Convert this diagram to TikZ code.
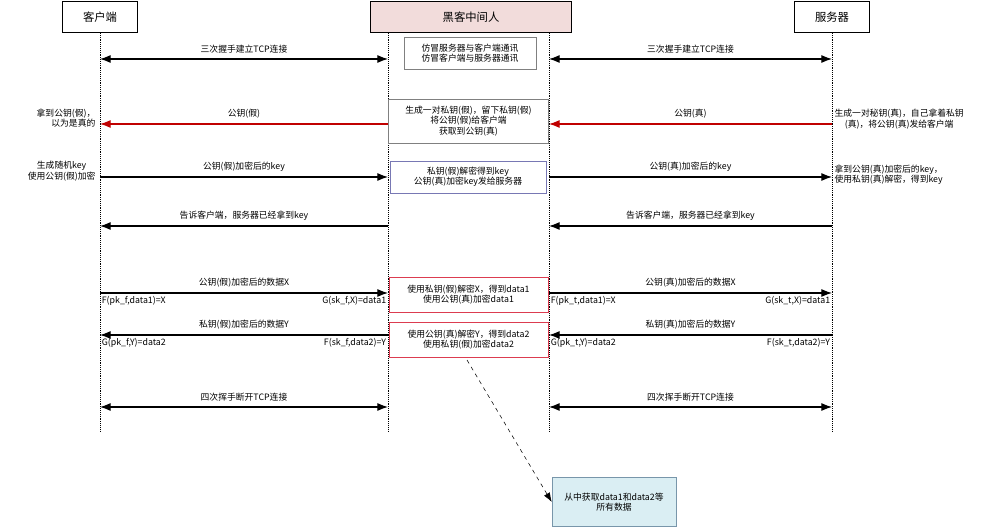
\documentclass[tikz,border=0pt]{standalone}
\usepackage{fontspec}
\setmainfont{Noto Sans CJK SC}
\usetikzlibrary{arrows.meta,positioning}
\begin{document}
\begin{tikzpicture}[x=0.75pt,y=-0.75pt,
 every node/.style={font=\fontsize{6.6}{7.8}\selectfont,inner sep=1pt},
 hdr/.style={draw,thick,minimum height=23pt,font=\fontsize{8.5}{10}\selectfont},
 life/.style={densely dotted,thin},
 msg/.style={thick,-{Latex[length=8pt,width=6pt]}},
 dmsg/.style={thick,{Latex[length=8pt,width=6pt]}-{Latex[length=8pt,width=6pt]}},
 red msg/.style={msg,draw={rgb,255:red,192;green,0;blue,0}},
 gbox/.style={draw=gray,align=center},
 rbox/.style={draw={rgb,255:red,220;green,60;blue,80},align=center}]
\useasboundingbox (0,0) rectangle (1001,527);
\node[hdr,minimum width=56pt] (c) at (100,17) {客户端};
\node[hdr,minimum width=151pt,fill={rgb,255:red,242;green,220;blue,219}] (m) at (471,17) {黑客中间人};
\node[hdr,minimum width=56pt] (s) at (832,17) {服务器};
\foreach \n/\x in {c1/100,m1/388,m2/549,s1/832}{
 \coordinate (\n t) at (\x,33); \coordinate (\n b) at (\x,432);
 \draw[life] (\n t) -- (\n b);}
\foreach \y/\n in {59/a,124/b,177/c,226/d,293/e,335/f,407/g}{
 \coordinate (L\n) at (100,\y); \coordinate (M\n) at (388,\y);
 \coordinate (N\n) at (549,\y); \coordinate (S\n) at (832,\y);}
\draw[dmsg] (La) -- node[above=3pt]{三次握手建立TCP连接} (Ma);
\draw[dmsg] (Na) -- node[above=3pt]{三次握手建立TCP连接} (Sa);
\node[gbox,minimum width=99pt,minimum height=24pt] (b1) at (470,53) {仿冒服务器与客户端通讯\\仿冒客户端与服务器通讯};
\draw[red msg] (Mb) -- node[above=3pt]{公钥(假)} (Lb);
\draw[red msg] (Sb) -- node[above=3pt]{公钥(真)} (Nb);
\node[gbox,minimum width=120pt,minimum height=33pt] (b2) at (468.5,121) {生成一对私钥(假)，留下私钥(假)\\将公钥(假)给客户端\\获取到公钥(真)};
\node[align=right,anchor=east] (t1) at (97,118) {拿到公钥(假)，\\以为是真的};
\node[align=center,anchor=west] (t2) at (833,119) {生成一对秘钥(真)，自己拿着私钥\\(真)，将公钥(真)发给客户端};
\draw[msg] (Lc) -- node[above=3pt]{公钥(假)加密后的key} (Mc);
\draw[msg] (Nc) -- node[above=3pt]{公钥(真)加密后的key} (Sc);
\node[draw={rgb,255:red,120;green,120;blue,180},align=center,minimum width=117pt,minimum height=24pt] (b3) at (468,177) {私钥(假)解密得到key\\公钥(真)加密key发给服务器};
\node[align=center,anchor=east] (t3) at (97,171) {生成随机key\\使用公钥(假)加密};
\node[align=left,anchor=west] (t4) at (833,175) {拿到公钥(真)加密后的key，\\使用私钥(真)解密，得到key};
\draw[msg] (Md) -- node[above=3pt]{告诉客户端，服务器已经拿到key} (Ld);
\draw[msg] (Sd) -- node[above=3pt]{告诉客户端，服务器已经拿到key} (Nd);
\draw[msg] (Le) -- node[above=3pt]{公钥(假)加密后的数据X} node[pos=0,below right=1pt and 0pt]{F(pk\_f,data1)=X} node[pos=1,below left=1pt and 0pt]{G(sk\_f,X)=data1} (Me);
\draw[msg] (Ne) -- node[above=3pt]{公钥(真)加密后的数据X} node[pos=0,below right=1pt and 0pt]{F(pk\_t,data1)=X} node[pos=1,below left=1pt and 0pt]{G(sk\_t,X)=data1} (Se);
\node[rbox,minimum width=119pt,minimum height=26pt] (b4) at (468.5,294.5) {使用私钥(假)解密X，得到data1\\使用公钥(真)加密data1};
\draw[msg] (Mf) -- node[above=3pt]{私钥(假)加密后的数据Y} node[pos=1,below right=1pt and 0pt]{G(pk\_f,Y)=data2} node[pos=0,below left=1pt and 0pt]{F(sk\_f,data2)=Y} (Lf);
\draw[msg] (Sf) -- node[above=3pt]{私钥(真)加密后的数据Y} node[pos=1,below right=1pt and 0pt]{G(pk\_t,Y)=data2} node[pos=0,below left=1pt and 0pt]{F(sk\_t,data2)=Y} (Nf);
\node[rbox,minimum width=119pt,minimum height=26pt] (b5) at (468.5,339.5) {使用公钥(真)解密Y，得到data2\\使用私钥(假)加密data2};
\draw[dmsg] (Lg) -- node[above=3pt]{四次挥手断开TCP连接} (Mg);
\draw[dmsg] (Ng) -- node[above=3pt]{四次挥手断开TCP连接} (Sg);
\node[draw={rgb,255:red,120;green,150;blue,170},fill={rgb,255:red,218;green,238;blue,243},align=center,minimum width=93pt,minimum height=37pt] (b6) at (614,502) {从中获取data1和data2等\\所有数据};
\draw[dashed,-{Latex[length=7pt,width=5pt]}] (467,360) -- (b6.west);
\end{tikzpicture}
\end{document}
